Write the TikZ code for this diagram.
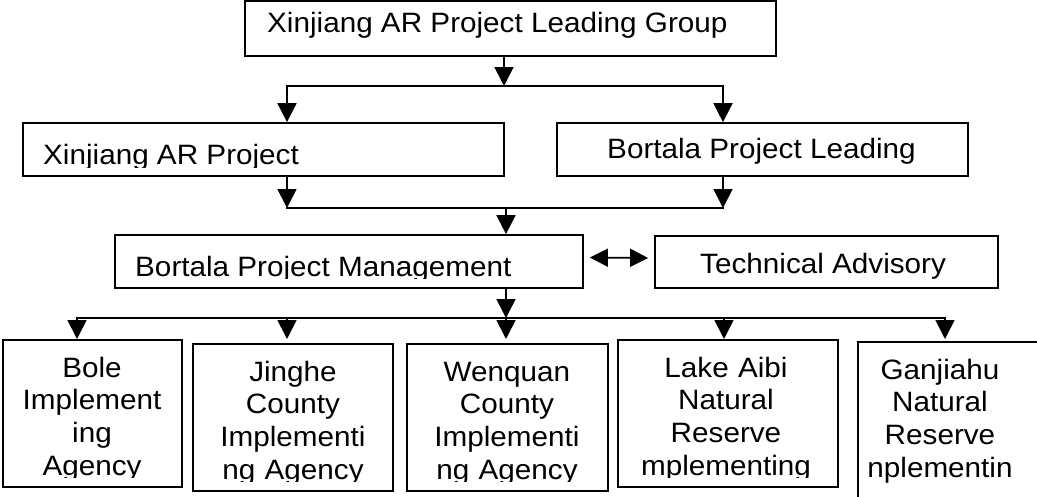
\documentclass[tikz,border=0pt]{standalone}
\usepackage{fontspec}
\setmainfont{Liberation Sans}[FakeStretch=1.06]
\usetikzlibrary{arrows.meta,fit}
\begin{document}
\begin{tikzpicture}[x=1pt,y=-1pt,
  box/.style={draw,line width=1.7pt,inner sep=0pt,rectangle},
  txt/.style={inner sep=0pt,font=\fontsize{28}{32.7}\selectfont},
  mtxt/.style={txt,align=center,text width=240pt},
  conn/.style={line width=1.7pt,line cap=rect},
  arr/.style={line width=1.7pt,-{Triangle[width=19pt,length=19pt]}},
  darr/.style={line width=1.7pt,{Triangle[width=18pt,length=18pt]}-{Triangle[width=18pt,length=18pt]}}]
\useasboundingbox (0,0) rectangle (1037,496);
% boxes
\node[box,fit={(245,1) (776,56)}] (top) {};
\node[box,fit={(23,123) (504,176)}] (xj) {};
\node[box,fit={(557,123) (968,176)}] (bl) {};
\node[box,fit={(115,235) (583,288)}] (pm) {};
\node[box,fit={(655,236) (998,288)}] (ta) {};
\node[box,fit={(3,340) (182,487)}] (bole) {};
\node[box,fit={(193,344) (393,491)}] (jing) {};
\node[box,fit={(407,344) (608,491)}] (wen) {};
\node[box,fit={(618,340) (838,487)}] (lake) {};
\node[box,fit={(858,342) (1050,520)}] (gan) {};
% texts
\node[txt,anchor=base west] (topt) at (267,32) {Xinjiang AR Project Leading Group};
\begin{scope}
\clip (23,123) rectangle (504,167);
\node[txt,anchor=base west] (xjt) at (43,164) {Xinjiang AR Project};
\end{scope}
\node[txt,anchor=base west] (blt) at (607,158) {Bortala Project Leading};
\begin{scope}
\clip (115,235) rectangle (583,278.5);
\node[txt,anchor=base west] (pmt) at (135,276) {Bortala Project Management};
\end{scope}
\node[txt,anchor=base west] (tat) at (700,273) {Technical Advisory};
\begin{scope}
\clip (3,340) rectangle (182,477.5);
\node[mtxt,anchor=base] (bolet) at (92,377) {Bole\\Implement\\ing\\Agency};
\end{scope}
\begin{scope}
\clip (193,344) rectangle (393,481);
\node[mtxt,anchor=base] (jingt) at (293,381) {Jinghe\\County\\Implementi\\ng Agency};
\end{scope}
\begin{scope}
\clip (407,344) rectangle (608,481);
\node[mtxt,anchor=base] (went) at (507,381) {Wenquan\\County\\Implementi\\ng Agency};
\end{scope}
\begin{scope}
\clip (618,340) rectangle (838,477.5);
\node[mtxt,anchor=base] (laket) at (726,377) {Lake Aibi\\Natural\\Reserve\\mplementing};
\end{scope}
\begin{scope}
\clip (858,342) rectangle (1020,496);
\node[mtxt,anchor=base] (gant) at (940,379) {Ganjiahu\\Natural\\Reserve\\nplementin};
\end{scope}
% junctions
\coordinate (j1) at (504,86);
\coordinate (j1l) at (287,86);
\coordinate (j1r) at (723,86);
\coordinate (j2l) at (287,208);
\coordinate (j2r) at (723,208);
\coordinate (j2m) at (506,208);
\coordinate (j3m) at (506,318);
\coordinate (j3a) at (77,318);
\coordinate (j3b) at (287,318);
\coordinate (j3d) at (724,318);
\coordinate (j3e) at (945,318);
\coordinate (tipb) at (0,339);
% connectors
\draw[arr] (top.south -| j1) -- (j1);
\draw[conn] (j1l) -- (j1r);
\draw[arr] (j1l) -- (j1l |- xj.north);
\draw[arr] (j1r) -- (j1r |- bl.north);
\draw[arr] (xj.south -| j2l) -- (j2l);
\draw[arr] (bl.south -| j2r) -- (j2r);
\draw[conn] (j2l) -- (j2r);
\draw[arr] (j2m) -- (j2m |- pm.north);
\draw[darr] ([xshift=6pt,yshift=4pt]pm.east) -- ([xshift=-6pt,yshift=4pt]ta.west);
\draw[arr] (pm.south -| j3m) -- (j3m);
\draw[conn] (j3a) -- (j3e);
\draw[arr] (j3a) -- (j3a |- tipb);
\draw[arr] (j3b) -- (j3b |- tipb);
\draw[arr] (j3m) -- (j3m |- tipb);
\draw[arr] (j3d) -- (j3d |- tipb);
\draw[arr] (j3e) -- (j3e |- tipb);
\end{tikzpicture}
\end{document}
